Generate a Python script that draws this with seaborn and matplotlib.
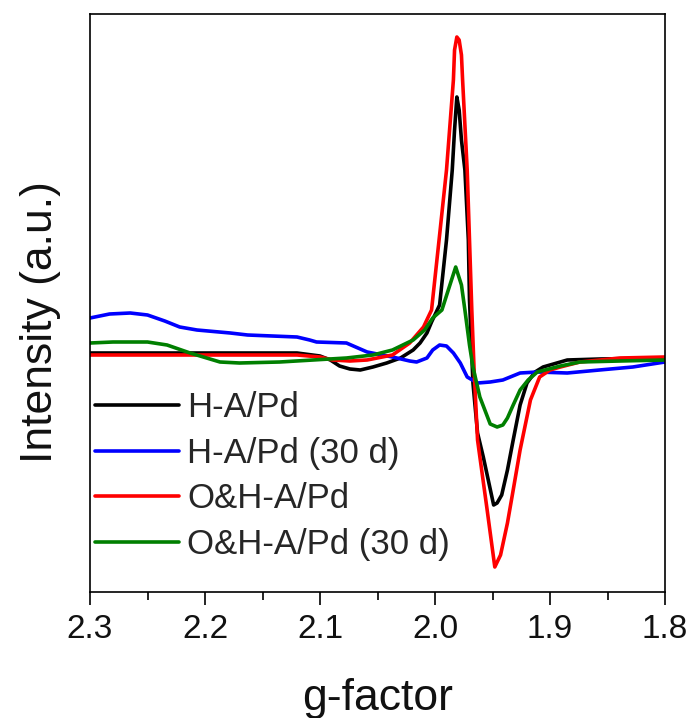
import numpy as np
import pandas as pd
import matplotlib
matplotlib.use("Agg")
import matplotlib.pyplot as plt
import seaborn as sns

labels = ["H-A/Pd", "H-A/Pd (30 d)", "O&H-A/Pd", "O&H-A/Pd (30 d)"]
colors = ["#000000", "#0000FF", "#FF0000", "#007F00"]

g_black = [2.300, 2.250, 2.200, 2.150, 2.120, 2.100, 2.091, 2.083, 2.074, 2.065, 2.054, 2.042,
           2.030, 2.019, 2.013, 2.007, 2.003, 1.996, 1.990, 1.985, 1.983, 1.981, 1.979, 1.977,
           1.974, 1.971, 1.970, 1.967, 1.963, 1.958, 1.949, 1.946, 1.942, 1.937, 1.932, 1.926,
           1.920, 1.913, 1.906, 1.885, 1.857, 1.800]
i_black = [2, 2, 2, 2, 2, -1, -5, -11, -14, -15, -12, -8,
           -3, 5, 12, 22, 33, 50, 115, 185, 225, 258, 245, 215,
           185, 115, 55, -28, -78, -102, -150, -148, -140, -115, -85, -50,
           -28, -17, -12, -5, -4, -3]

g_blue = [2.300, 2.283, 2.265, 2.250, 2.235, 2.222, 2.207, 2.178, 2.163, 2.120, 2.109, 2.103,
          2.077, 2.059, 2.037, 2.022, 2.016, 2.007, 2.002, 1.996, 1.990, 1.984, 1.978, 1.972,
          1.963, 1.952, 1.941, 1.926, 1.911, 1.885, 1.857, 1.828, 1.800]
i_blue = [37, 41, 42, 40, 34, 28, 25, 22, 20, 18, 15, 13,
          12, 3, -2, -6, -7, -3, 5, 10, 9, 2, -8, -22,
          -28, -27, -25, -18, -17, -18, -15, -12, -7]

g_red = [2.300, 2.200, 2.120, 2.100, 2.089, 2.074, 2.059, 2.037, 2.022, 2.010, 2.003, 1.996,
         1.990, 1.984, 1.983, 1.981, 1.979, 1.977, 1.976, 1.972, 1.968, 1.966, 1.963, 1.955,
         1.948, 1.943, 1.937, 1.932, 1.926, 1.917, 1.909, 1.900, 1.891, 1.874, 1.839, 1.800]
i_red = [0, 0, 0, -2, -5, -6, -5, 0, 12, 28, 45, 120,
         185, 275, 305, 318, 315, 300, 275, 185, 45, -15, -85, -152,
         -212, -200, -168, -135, -95, -45, -22, -15, -12, -7, -3, -2]

g_green = [2.300, 2.280, 2.250, 2.233, 2.213, 2.187, 2.170, 2.135, 2.106, 2.077, 2.054, 2.037,
           2.019, 2.009, 2.002, 1.994, 1.989, 1.982, 1.977, 1.974, 1.970, 1.967, 1.961, 1.952,
           1.946, 1.941, 1.937, 1.932, 1.926, 1.919, 1.911, 1.891, 1.874, 1.839, 1.800]
i_green = [12, 13, 13, 10, 2, -7, -8, -7, -5, -3, 0, 5,
           15, 25, 37, 45, 63, 88, 70, 45, 10, -12, -42, -69,
           -72, -70, -63, -50, -35, -25, -17, -11, -7, -6, -5]

x_ticks = [2.3, 2.2, 2.1, 2.0, 1.9, 1.8]
x_tick_labels = ["2.3", "2.2", "2.1", "2.0", "1.9", "1.8"]

series = [(g_black, i_black), (g_blue, i_blue), (g_red, i_red), (g_green, i_green)]
frames = []
for lab, (g, i) in zip(labels, series):
    frames.append(pd.DataFrame({"g": g, "I": i, "sample": lab}))
df = pd.concat(frames, ignore_index=True)

sns.set_theme(style="white")
plt.rcParams["font.family"] = ["Liberation Sans", "DejaVu Sans"]

fig = plt.figure(figsize=(6.92, 7.18), dpi=100)
ax = fig.add_axes([90 / 692, 1 - 592 / 718, 575 / 692, 578 / 718])

sns.lineplot(data=df, x="g", y="I", hue="sample", hue_order=labels,
             palette=dict(zip(labels, colors)), estimator=None, sort=False,
             linewidth=2.6, ax=ax)
for line in ax.get_lines():
    line.set_solid_joinstyle("round")

ax.set_xlim(2.3, 1.8)
ax.set_ylim(-237, 341)
ax.set_xticks(x_ticks)
ax.set_xticklabels(x_tick_labels)
ax.set_xticks([2.25, 2.15, 2.05, 1.95, 1.85], minor=True)
ax.set_yticks([])
ax.tick_params(axis="x", which="major", direction="out", length=9, width=1.2,
               labelsize=24, pad=7, bottom=True, color="black", labelcolor="#111111")
ax.tick_params(axis="x", which="minor", direction="out", length=5.5, width=1.2, bottom=True,
               color="black")
for s in ax.spines.values():
    s.set_color("black")
    s.set_linewidth(1.2)

ax.set_xlabel("g-factor", fontsize=32, color="#111111")
ax.set_ylabel("Intensity (a.u.)", fontsize=32, color="#111111")
ax.xaxis.set_label_coords(0.5, -0.148)
ax.yaxis.set_label_coords(-0.05, 0.467)

handles, labs = ax.get_legend_handles_labels()
ax.legend(handles, labs, loc="upper left", bbox_to_anchor=(0.009, 0.347),
          frameon=False, fontsize=25, handlelength=2.4, handletextpad=0.25,
          labelspacing=0.36, borderpad=0, borderaxespad=0)
for line in ax.get_legend().get_lines():
    line.set_linewidth(2.6)

fig.savefig("out.png", dpi=100)
